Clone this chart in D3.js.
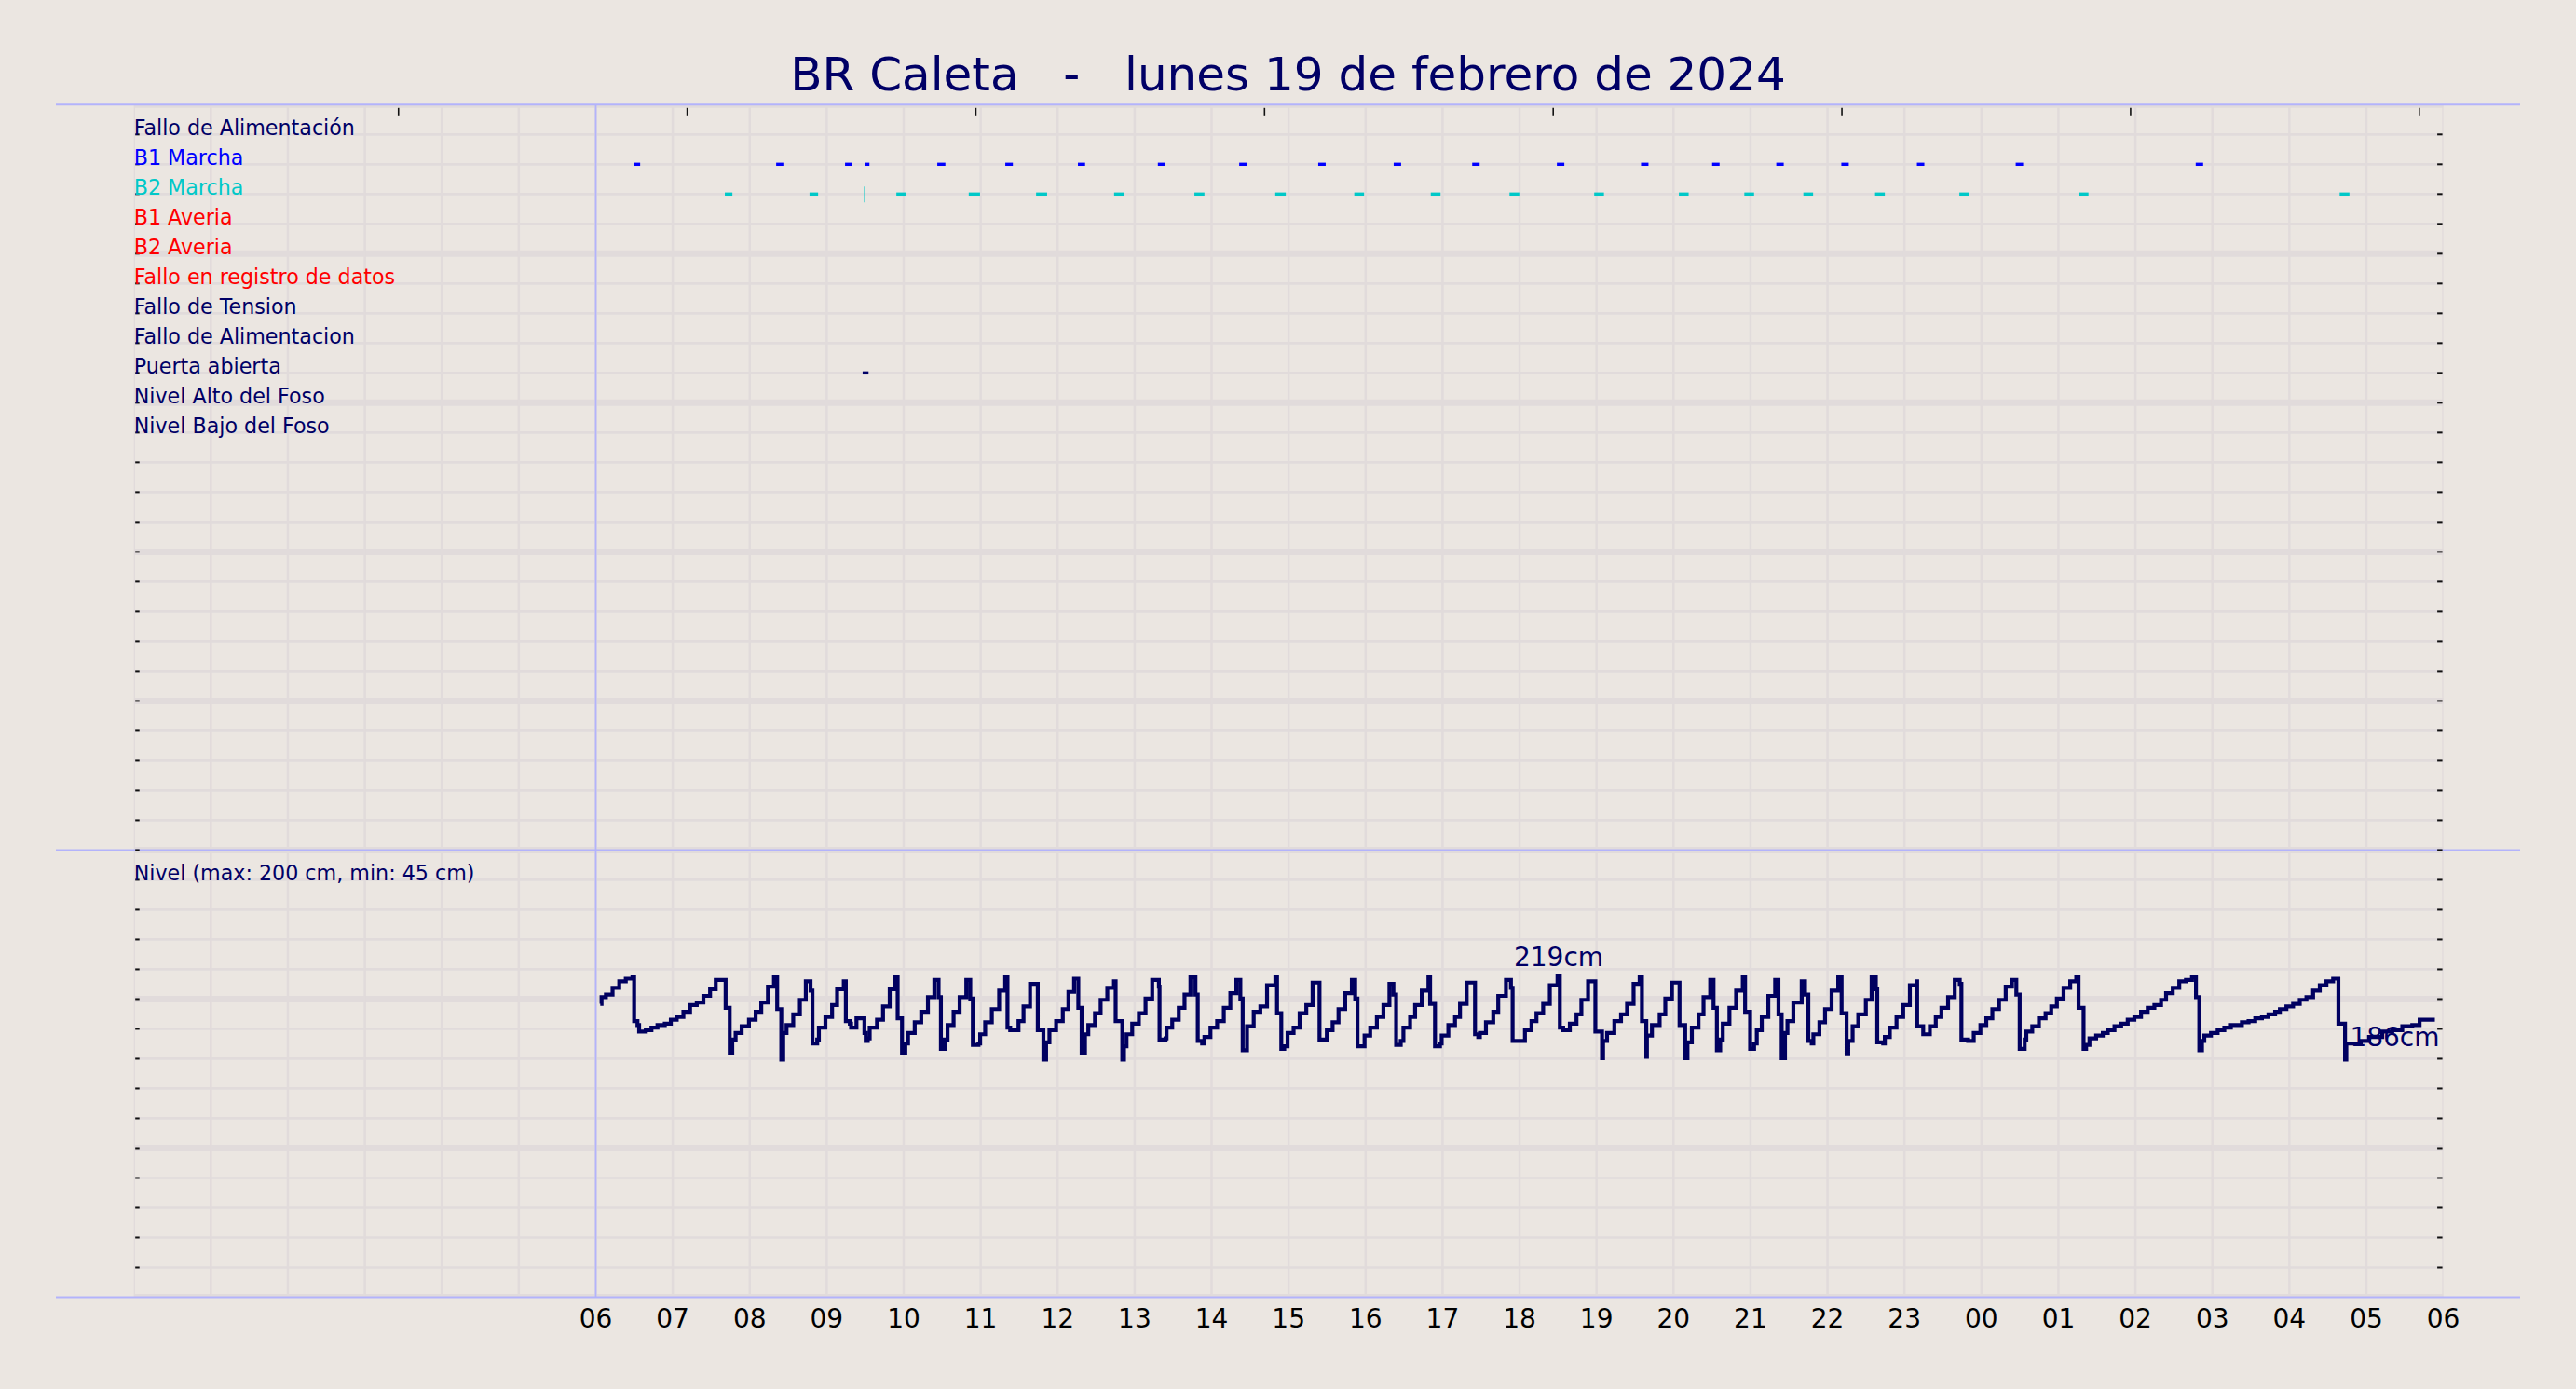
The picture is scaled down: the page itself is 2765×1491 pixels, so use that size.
<!DOCTYPE html>
<html><head><meta charset="utf-8">
<script src="https://cdn.jsdelivr.net/npm/d3@7"></script>
<style>
html,body{margin:0;padding:0;background:#ebe6e1;}
svg{display:block;font-family:"DejaVu Sans",sans-serif;}
</style>
</head><body>
<svg id="chart" width="2765" height="1491"></svg>
<script>
// ---------------- data ----------------
const chartTitle = "BR Caleta   -   lunes 19 de febrero de 2024";
const signalLabels = ["Fallo de Alimentación","B1 Marcha","B2 Marcha","B1 Averia","B2 Averia",
  "Fallo en registro de datos","Fallo de Tension","Fallo de Alimentacion","Puerta abierta",
  "Nivel Alto del Foso","Nivel Bajo del Foso"];
const signalColors = ["#000066","#0000ff","#00c8c8","#ff0000","#ff0000","#ff0000",
  "#000066","#000066","#000066","#000066","#000066"];
const levelLabel = "Nivel (max: 200 cm, min: 45 cm)";
const levelMax = 200, levelMin = 45;
const xTickLabels = ["06","07","08","09","10","11","12","13","14","15","16","17","18",
  "19","20","21","22","23","00","01","02","03","04","05","06"];
const topTickHours = [3.4375,7.1875,10.9375,14.6875,18.4375,22.1875,25.9375,29.6875];

// running intervals, minutes after 06:00
const b1Runs = [[29.5,34.6],[140.6,146.2],[194.3,199.9],[209.6,213.3],[266.2,272.5],[319.2,325.1],
  [375.8,381.4],[438.1,444],[501.5,507.8],[563.1,568.9],[621.9,627.7],[683.1,688.9],[749.1,754.9],
  [814.7,820.5],[870.1,875.9],[920.1,925.9],[970.8,976.6],[1029.7,1035.5],[1106.7,1112.5],[1247,1252.8]];
const b2Runs = [[100.6,106.5],[166.6,173.3],[209.6,209.6],[234.3,242.1],[290.7,299.5],[343.2,351.8],
  [404,412.1],[466.6,474.4],[529.6,537.8],[591.2,598.8],[650.8,658.4],[712.2,719.8],[778.2,785.8],
  [844.2,851.8],[895.2,902.8],[941.2,948.8],[997.1,1004.7],[1062.8,1070.4],[1155.8,1163.4],[1359.2,1366.8]];
const puertaRuns = [[208,212.6]];

// level (cm), minutes after 06:00
const levelMinutes = [3.5,4.5,7.9,13.1,18.3,23.4,28.6,29.9,32.5,33.8,39.0,43.4,48.1,53.8,58.5,63.1,68.3,73.5,78.7,83.9,89.1,93.5,
101.2,104.4,106.4,109.0,113.7,119.4,124.6,129.0,134.2,138.9,141.4,144.6,146.1,148.7,153.9,159.1,163.7,167.4,168.9,172.6,173.9,
179.0,184.2,188.1,193.3,194.9,198.0,199.0,203.2,209.4,210.4,212.0,213.5,219.2,223.9,229.1,233.5,235.3,238.7,241.3,243.4,248.6,
253.7,258.9,263.9,267.2,269.0,271.9,274.2,278.9,283.6,288.8,291.9,293.9,298.3,299.6,303.5,308.7,314.4,319.1,320.9,323.0,329.5,
333.4,338.5,344.5,348.9,351.0,353.6,358.8,364.0,368.4,372.8,376.1,378.7,381.3,383.9,389.1,393.5,398.7,403.9,405.2,410.4,411.7,
413.7,418.1,423.3,428.5,433.7,438.9,439.4,444.1,444.9,449.3,454.4,458.9,463.5,467.4,469.2,472.6,474.4,479.1,484.3,489.5,494.6,
499.3,502.4,504.2,507.6,512.8,518.0,523.2,529.7,531.0,534.3,536.6,539.2,543.9,548.6,553.8,558.7,564.1,569.8,574.3,578.9,584.1,
589.3,591.9,593.7,599.2,603.6,608.8,613.9,618.6,621.7,623.8,627.4,629.5,634.7,638.6,643.8,649.0,650.3,654.1,658.0,659.3,664.5,
669.7,673.6,678.8,685.3,687.8,689.1,693.8,699.5,703.4,709.4,713.3,714.6,724.2,729.3,733.2,738.4,743.6,749.6,751.4,754.0,759.2,
764.4,768.2,773.4,779.1,784.3,785.1,788.2,793.9,799.1,803.8,808.9,813.6,815.4,818.8,819.3,823.2,829.2,833.6,838.8,844.7,849.1,
850.9,854.3,859.5,863.4,868.6,871.2,873.8,876.4,878.4,883.6,888.8,894.0,895.8,899.7,902.8,904.9,908.8,913.9,919.2,921.8,924.3,
926.9,928.8,933.4,939.9,942.5,945.1,947.7,949.0,953.7,958.1,963.2,968.4,971.0,974.9,976.2,979.6,984.0,989.9,994.4,997.7,998.8,
1003.4,1004.7,1008.6,1013.8,1019.0,1024.2,1029.4,1029.9,1034.6,1039.8,1044.4,1048.8,1054.0,1059.2,1063.1,1064.4,1069.6,1074.0,
1079.2,1083.8,1088.5,1093.7,1098.9,1103.8,1107.2,1109.8,1113.7,1115.0,1119.6,1124.8,1130.0,1134.4,1138.8,1144.0,1149.2,1153.9,
1155.7,1159.6,1161.6,1164.2,1169.4,1174.6,1178.5,1183.7,1188.9,1194.0,1199.2,1204.4,1209.6,1214.8,1220.0,1223.9,1229.1,1234.2,
1239.4,1244.1,1247.2,1249.8,1251.9,1253.7,1258.9,1264.1,1269.3,1274.4,1283.0,1288.2,1293.4,1298.6,1303.7,1308.9,1312.6,1317.7,
1322.9,1328.1,1333.3,1338.5,1343.7,1348.9,1354.1,1358.2,1363.4,1364.4,1375.6,1382.1,1392.4,1400.2,1408.0,1415.8,1421.5,1433.4];
const levelValues = [198,203,205,210,215,217,218,185,182,177,178,180,182,183,186,188,192,197,199,204,209,216,
195,161,171,176,181,186,192,199,211,218,194,156,176,182,190,201,215,208,168,171,180,
188,197,209,215,185,183,180,187,176,170,172,180,186,196,209,218,187,161,168,176,184,
192,203,216,203,164,171,182,192,203,216,202,167,168,175,184,194,208,218,180,178,185,
196,213,178,156,169,178,185,194,207,217,195,161,175,182,191,201,210,215,185,156,166,
175,183,191,202,216,211,171,172,180,186,195,205,218,205,170,168,173,180,185,195,206,
216,202,163,181,192,196,212,218,191,164,166,176,180,191,197,214,171,178,184,194,206,
216,202,166,174,180,188,197,213,205,167,170,180,188,197,208,218,198,166,168,174,182,
188,198,214,175,173,176,184,192,204,216,210,170,178,185,191,198,212,219,180,178,183,
190,201,215,177,157,170,176,185,190,198,213,218,185,158,174,182,190,202,214,182,157,
169,180,190,203,216,195,163,171,183,195,208,218,192,164,168,178,188,204,216,190,157,
176,185,199,215,205,170,168,175,184,194,208,218,191,160,170,181,190,201,218,209,169,
168,173,180,188,197,212,215,181,175,181,188,195,203,216,213,171,170,176,
182,187,194,201,211,216,205,164,171,177,181,187,191,196,202,210,215,218,
195,164,167,172,174,176,178,181,183,186,188,192,195,197,201,206,210,215,
216,218,203,163,170,174,176,178,180,182,184,185,187,188,190,192,194,196,
198,201,203,208,212,215,217,183,156,168,170,173,177,178,181,182,186,186];

// ---------------- layout ----------------
const W = 2765, H = 1491;
const plotL = 143.7, plotR = 2622.6, plotT = 112.3, plotB = 1392.5;
const sepL = 60, sepR = 2705;
const bg = "#ebe6e1", gridC = "#e1dbdb", sepC = "#b3b3fb", navy = "#000066";

const svg = d3.select("#chart");
svg.append("rect").attr("width", W).attr("height", H).attr("fill", bg);

const x = d3.scaleLinear().domain([0, 30]).range([plotL, plotR]);   // hours since 00:00
const y = d3.scaleLinear().domain([0, 40]).range([plotB, plotT]);   // rows
const levelY = d3.scaleLinear().domain([levelMin, levelMax]).range([y(3.04), y(9.93)]);
const hx = m => x(6 + m / 60);

svg.append("defs").append("clipPath").attr("id", "plotclip")
  .append("rect").attr("x", plotL).attr("y", plotT).attr("width", plotR - plotL).attr("height", plotB - plotT);

// grid
const grid = svg.append("g").attr("clip-path", "url(#plotclip)");
grid.selectAll("line.h").data(d3.range(0, 41)).join("line")
  .attr("x1", plotL).attr("x2", plotR).attr("y1", d => y(d)).attr("y2", d => y(d))
  .attr("stroke", gridC).attr("stroke-width", d => d % 5 === 0 ? 7 : 2.7);
grid.selectAll("line.v").data(d3.range(0, 31)).join("line")
  .attr("y1", plotT).attr("y2", plotB).attr("x1", d => x(d)).attr("x2", d => x(d))
  .attr("stroke", gridC).attr("stroke-width", 2.5);

// separators
svg.selectAll("line.sep").data([40, 15, 0]).join("line")
  .attr("x1", sepL).attr("x2", sepR).attr("y1", d => y(d)).attr("y2", d => y(d))
  .attr("stroke", sepC).attr("stroke-width", 2);
svg.append("line").attr("x1", x(6)).attr("x2", x(6)).attr("y1", plotT).attr("y2", plotB)
  .attr("stroke", sepC).attr("stroke-width", 1.8);

// ticks
const rows = d3.range(1, 40);
svg.selectAll("line.lt").data(rows).join("line")
  .attr("x1", plotL + 1.5).attr("x2", plotL + 6).attr("y1", d => y(d)).attr("y2", d => y(d))
  .attr("stroke", "#111").attr("stroke-width", 2);
svg.selectAll("line.rt").data(rows).join("line")
  .attr("x1", plotR - 6.5).attr("x2", plotR - 1).attr("y1", d => y(d)).attr("y2", d => y(d))
  .attr("stroke", "#111").attr("stroke-width", 2);
svg.selectAll("line.tt").data(topTickHours).join("line")
  .attr("x1", d => x(d)).attr("x2", d => x(d)).attr("y1", plotT + 3.5).attr("y2", plotT + 11.5)
  .attr("stroke", "#111").attr("stroke-width", 1.6);

// x tick labels
svg.selectAll("text.xl").data(xTickLabels).join("text")
  .attr("x", (d, i) => x(6 + i)).attr("y", 1425)
  .attr("text-anchor", "middle").attr("font-size", 28).attr("fill", "#000").text(d => d);

// title
svg.append("text").attr("x", W / 2).attr("y", 97).attr("text-anchor", "middle")
  .attr("font-size", 50).attr("fill", navy).style("white-space", "pre").text(chartTitle);

// signal labels
svg.selectAll("text.sl").data(signalLabels).join("text")
  .attr("x", plotL).attr("y", (d, i) => y(39 - i) + 0.8)
  .attr("font-size", 22.2).attr("fill", (d, i) => signalColors[i]).text(d => d);
svg.append("text").attr("x", plotL).attr("y", y(14) + 0.5)
  .attr("font-size", 22.2).attr("fill", navy).text(levelLabel);

// event marks
function drawRuns(runs, row, color) {
  const g = svg.append("g");
  runs.forEach(r => {
    const w = hx(r[1]) - hx(r[0]);
    if (w > 0.5) {
      g.append("rect").attr("x", hx(r[0])).attr("y", y(row) - 1.7).attr("width", w).attr("height", 3.4).attr("fill", color);
    } else {
      g.append("line").attr("x1", hx(r[0])).attr("x2", hx(r[0])).attr("y1", y(row) - 8).attr("y2", y(row) + 9)
        .attr("stroke", color).attr("stroke-width", 1.3);
    }
  });
}
drawRuns(b1Runs, 38, "#0000ff");
drawRuns(b2Runs, 37, "#00c8c8");
drawRuns(puertaRuns, 31, navy);

// level line
const levelData = levelMinutes.map((m, i) => ({m, v: levelValues[i]}));
const line = d3.line().x(d => hx(d.m)).y(d => levelY(d.v)).curve(d3.curveStepAfter);
svg.append("path").datum(levelData).attr("d", line)
  .attr("fill", "none").attr("stroke", "#000060").attr("stroke-width", 4.2).attr("stroke-linejoin", "miter");

// annotations
const maxV = d3.max(levelValues);
const maxI = levelValues.indexOf(maxV);
const maxD = levelData[maxI];
svg.append("text").attr("x", (hx(maxD.m) + hx(levelData[maxI + 1].m)) / 2).attr("y", levelY(maxD.v) - 11)
  .attr("text-anchor", "middle").attr("font-size", 28).attr("fill", navy).text(maxV + "cm");
const lastD = levelData[levelData.length - 1];
svg.append("text").attr("x", hx(lastD.m) + 5).attr("y", levelY(lastD.v) + 28)
  .attr("text-anchor", "end").attr("font-size", 28).attr("fill", navy).text(lastD.v + "cm");
</script>
</body></html>
